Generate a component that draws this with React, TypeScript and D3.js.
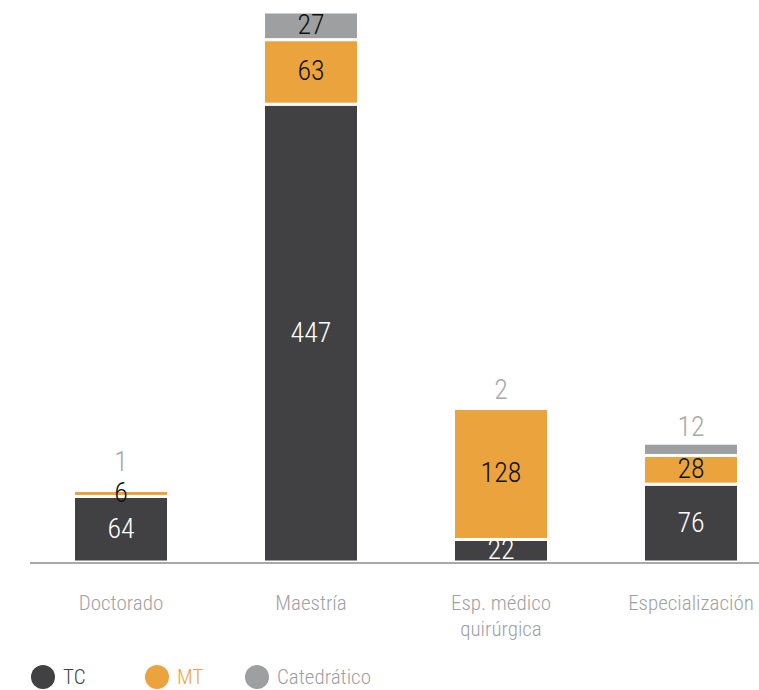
import React from "react";
import * as d3 from "d3";

const categories = ["Doctorado", "Maestría", "Esp. médico\nquirúrgica", "Especialización"];
const seriesNames = ["TC", "MT", "Catedrático"];
const tcValues = [64, 447, 22, 76];
const mtValues = [6, 63, 128, 28];
const catValues = [1, 27, 2, 12];

const colors = ["#414042", "#eba33d", "#9d9fa0"];
const labelColors = ["#ffffff", "#111111", "#111111"];
const FONT = "'Roboto Condensed', 'Liberation Sans Narrow', 'Arial Narrow', Roboto, sans-serif";

export default function App() {
  const W = 759, H = 690;
  const baseY = 562;
  const x = d3.scaleBand().domain(categories).range([26, 786]).paddingInner(0.5).paddingOuter(0.25);
  const y = d3.scaleLinear().domain([0, 537]).range([baseY, 12]);

  const rows = categories.map((c, i) => ({ cat: c, TC: tcValues[i], MT: mtValues[i], "Catedrático": catValues[i] }));
  const stack = d3.stack<any>().keys(seriesNames)(rows);

  const labels: { x: number; y: number; v: number; fill: string }[] = [];
  categories.forEach((cat, i) => {
    let prevY = Infinity;
    const cx = x(cat)! + x.bandwidth() / 2;
    stack.forEach((layer, si) => {
      const d = layer[i];
      const v = d[1] - d[0];
      const h = y(d[0]) - y(d[1]);
      const inside = si < 2 || h > 20;
      const ty = inside ? (y(d[0]) + y(d[1])) / 2 - 1 : Math.min(y(d[1]) - 17, prevY - 31);
      labels.push({ x: cx, y: ty, v, fill: inside ? labelColors[si] : "#a7a9ab" });
      prevY = ty;
    });
  });

  return (
    <svg width={W} height={H} style={{ position: "absolute", left: 0, top: 0, fontFamily: FONT, fontWeight: 300 }}>
      {stack.map((layer, si) => (
        <g key={si}>
          {layer.map((d, i) => {
            const cat = categories[i];
            const x0 = x(cat)!;
            const y0 = y(d[1]);
            const y1 = y(d[0]);
            return (
              <rect key={i} x={x0} y={y0} width={x.bandwidth()} height={Math.max(0, y1 - y0)}
                fill={colors[si]} stroke="#fff" strokeWidth={3} />
            );
          })}
        </g>
      ))}
      <line x1={30} x2={W} y1={baseY + 1} y2={baseY + 1} stroke="#a8a9ab" strokeWidth={2} />
      {labels.map((l, k) => (
        <text key={k} x={l.x} y={l.y} textAnchor="middle" dominantBaseline="central"
          fontSize={28} fill={l.fill}>{l.v}</text>
      ))}
      {categories.map((c) => {
        const lines = c.split("\n");
        const cx = x(c)! + x.bandwidth() / 2;
        return (
          <text key={c} x={cx} y={603} textAnchor="middle" fontSize={21} fill="#a0a1a3" dominantBaseline="central">
            {lines.map((l, k) => (
              <tspan key={k} x={cx} dy={k === 0 ? 0 : 26}>{l}</tspan>
            ))}
          </text>
        );
      })}
      {seriesNames.map((s, i) => {
        const lx = [43, 157, 257][i];
        return (
          <g key={s}>
            <circle cx={lx} cy={677} r={12} fill={colors[i]} />
            <text x={lx + 20} y={677} dominantBaseline="central" fontSize={21}
              fill={i === 0 ? "#414042" : i === 1 ? "#eba33d" : "#9d9fa0"}>{s}</text>
          </g>
        );
      })}
    </svg>
  );
}
